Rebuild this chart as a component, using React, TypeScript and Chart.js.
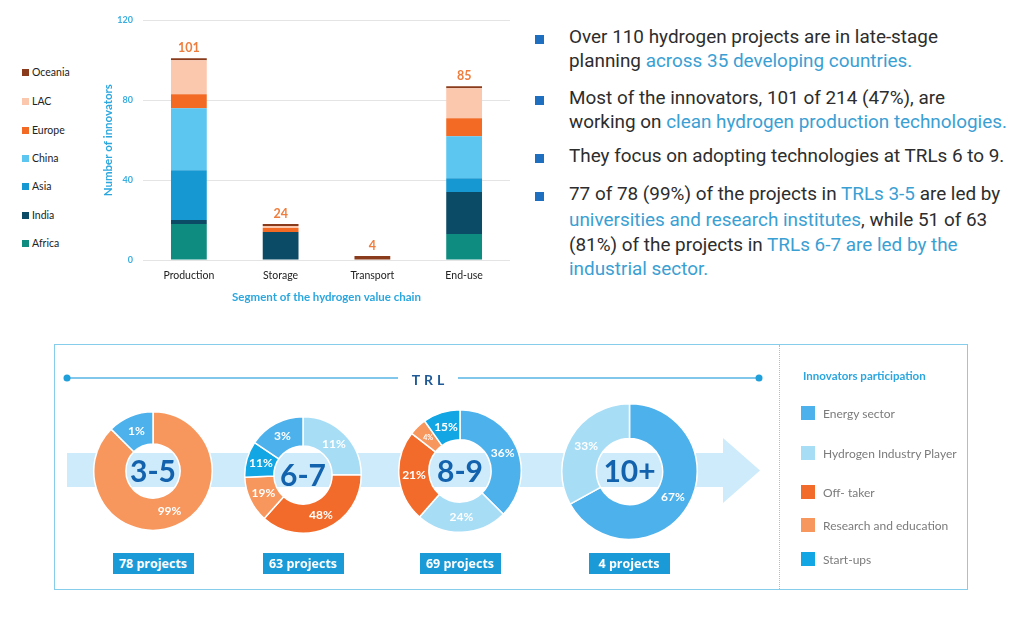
import React, { useEffect, useRef } from 'react';
import { Chart, registerables } from 'chart.js';
Chart.register(...registerables);

// ---------- Bar chart data ----------
const segments = ['Production', 'Storage', 'Transport', 'End-use'];
const regions = ['Africa', 'India', 'Asia', 'China', 'Europe', 'LAC', 'Oceania'];
const africa = [18, 0, 0, 13];
const india = [2, 14, 0, 21];
const asia = [25, 0, 0, 7];
const china = [31, 0, 0, 21];
const europe = [7, 2, 0, 9];
const lac = [17, 1, 0, 15];
const oceania = [1, 1, 2, 1];
const segmentTotals = ['101', '24', '4', '85'];
const yTicks = [0, 40, 80, 120];

// ---------- Doughnut data ----------
const participation = ['Energy sector', 'Hydrogen Industry Player', 'Off- taker', 'Research and education', 'Start-ups'];
const trlLevels = ['3-5', '6-7', '8-9', '10+'];
const trlProjects = ['78 projects', '63 projects', '69 projects', '4 projects'];

const trl35Types = [3, 0];
const trl35Shares = [87.5, 12.5];
const trl35Labels = ['99%', '1%'];

const trl67Types = [1, 2, 3, 4, 0];
const trl67Shares = [25, 36.6, 12.8, 10, 15.6];
const trl67Labels = ['11%', '48%', '19%', '11%', '3%'];

const trl89Types = [0, 1, 2, 3, 4];
const trl89Shares = [37.5, 24, 24, 4.7, 9.8];
const trl89Labels = ['36%', '24%', '21%', '4%', '15%'];

const trl10Types = [0, 1];
const trl10Shares = [67, 33];
const trl10Labels = ['67%', '33%'];

// ---------- Styles ----------
const regionColors = ['#0E8C80', '#0C4B66', '#1699D3', '#5CC6F0', '#F26A23', '#FBC7AD', '#8A3B1B'];
const partColors = ['#4DB1EC', '#A8DDF6', '#F26B2A', '#F7975E', '#12A6E4'];
const regionValues = [africa, india, asia, china, europe, lac, oceania];

function BarChart() {
  const ref = useRef<HTMLCanvasElement>(null);
  useEffect(() => {
    const totalsPlugin = {
      id: 'totals',
      afterDatasetsDraw(chart: any) {
        const ctx = chart.ctx;
        segments.forEach((_, i) => {
          let top = Infinity;
          let x = 0;
          chart.data.datasets.forEach((d: any, di: number) => {
            const el = chart.getDatasetMeta(di).data[i];
            if (d.data[i] > 0 && el) {
              top = Math.min(top, el.y);
              x = el.x;
            }
          });
          ctx.save();
          ctx.fillStyle = '#EE7E3E';
          ctx.font = 'bold 12.5px Lato';
          ctx.textAlign = 'center';
          ctx.textBaseline = 'bottom';
          ctx.fillText(segmentTotals[i], x, top - 4);
          ctx.restore();
        });
      },
    };
    const chart = new Chart(ref.current!, {
      type: 'bar',
      data: {
        labels: segments,
        datasets: regions.map((r, i) => ({
          label: r,
          data: regionValues[i],
          backgroundColor: regionColors[i],
          borderWidth: 0,
          stack: 's',
        })),
      },
      options: {
        animation: false,
        responsive: false,
        layout: { padding: { top: 15, right: 10, left: 0, bottom: 0 } },
        datasets: { bar: { categoryPercentage: 1, barPercentage: 0.39 } },
        plugins: { legend: { display: false }, tooltip: { enabled: false } },
        scales: {
          x: {
            stacked: true,
            grid: { display: false },
            border: { display: false },
            ticks: { padding: 1, color: '#222', font: { family: 'Lato', size: 10.5 } },
            title: {
              display: true,
              text: 'Segment of the hydrogen value chain',
              color: '#2BA7DF',
              font: { family: 'Lato', size: 11.5, weight: 'bold' },
              padding: { top: 0, bottom: 6 },
            },
            afterFit: (s: any) => { s.height = 50; },
          },
          y: {
            stacked: true,
            min: 0,
            max: 120,
            afterBuildTicks: (s: any) => { s.ticks = yTicks.map((v) => ({ value: v })); },
            grid: { color: '#E4E4E4', drawTicks: false },
            border: { display: false },
            ticks: { padding: 10, color: '#3AAEE0', font: { family: 'Lato', size: 9, weight: 'bold' } },
            title: {
              display: true,
              text: 'Number of innovators',
              color: '#2BA7DF',
              font: { family: 'Lato', size: 11.5, weight: 'bold' },
              padding: { top: 11, bottom: 0 },
            },
            afterFit: (s: any) => { s.width = 53; },
          },
        },
      } as any,
      plugins: [totalsPlugin],
    });
    return () => chart.destroy();
  }, []);
  return (
    <canvas
      ref={ref}
      width={430}
      height={305}
      style={{ position: 'absolute', left: 90, top: 5, width: 430, height: 305 }}
    />
  );
}

function Donut(props: {
  types: number[]; shares: number[]; labels: string[]; center: string;
  cx: number; cy: number; r: number; cut: number;
}) {
  const ref = useRef<HTMLCanvasElement>(null);
  const S = Math.round(2 * props.r + 2);
  useEffect(() => {
    const labelPlugin = {
      id: 'sliceLabels',
      afterDatasetsDraw(chart: any) {
        const ctx = chart.ctx;
        const meta = chart.getDatasetMeta(0);
        meta.data.forEach((arc: any, i: number) => {
          const p = arc.getProps(['x', 'y', 'startAngle', 'endAngle', 'innerRadius', 'outerRadius'], true);
          const mid = (p.startAngle + p.endAngle) / 2;
          const rr = (p.innerRadius + p.outerRadius) / 2;
          const share = props.shares[i];
          ctx.save();
          ctx.fillStyle = '#FFFFFF';
          ctx.font = `bold ${share < 6 ? 7 : 12}px Lato`;
          ctx.textAlign = 'center';
          ctx.textBaseline = 'middle';
          ctx.fillText(props.labels[i], p.x + rr * Math.cos(mid), p.y + rr * Math.sin(mid));
          ctx.restore();
        });
        const a0 = meta.data[0];
        ctx.save();
        ctx.fillStyle = '#1262AE';
        ctx.font = 'bold 30px Lato';
        ctx.textAlign = 'center';
        ctx.textBaseline = 'middle';
        ctx.fillText(props.center, a0.x, a0.y + 1);
        ctx.restore();
      },
    };
    const chart = new Chart(ref.current!, {
      type: 'doughnut',
      data: {
        labels: props.types.map((t) => participation[t]),
        datasets: [{
          data: props.shares,
          backgroundColor: props.types.map((t) => partColors[t]),
          borderColor: '#FFFFFF',
          borderWidth: 1.5,
        }],
      },
      options: {
        animation: false,
        responsive: false,
        cutout: `${(props.cut / props.r) * 100}%`,
        layout: { padding: 0 },
        plugins: { legend: { display: false }, tooltip: { enabled: false } },
      } as any,
      plugins: [labelPlugin],
    });
    return () => chart.destroy();
  }, []);
  return (
    <canvas
      ref={ref}
      width={S}
      height={S}
      style={{ position: 'absolute', left: props.cx - S / 2, top: props.cy - S / 2, width: S, height: S }}
    />
  );
}

const textDark = '#2D2D2D';
const textBlue = '#3AA0D3';

const bulletLines: { y: number; bullet?: boolean; parts: [string, boolean][] }[] = [
  { y: 37, bullet: true, parts: [['Over 110 hydrogen projects are in late-stage', false]] },
  { y: 61, parts: [['planning ', false], ['across 35 developing countries.', true]] },
  { y: 98, bullet: true, parts: [['Most of the innovators, 101 of 214 (47%), are', false]] },
  { y: 122, parts: [['working on ', false], ['clean hydrogen production technologies.', true]] },
  { y: 156, bullet: true, parts: [['They focus on adopting technologies at TRLs 6 to 9.', false]] },
  { y: 194, bullet: true, parts: [['77 of 78 (99%) of the projects in ', false], ['TRLs 3-5', true], [' are led by', false]] },
  { y: 220, parts: [['universities and research institutes', true], [', while 51 of 63', false]] },
  { y: 245, parts: [['(81%) of the projects in ', false], ['TRLs 6-7 are led by the', true]] },
  { y: 269, parts: [['industrial sector.', true]] },
];

const donutGeom = [
  { cx: 153, cy: 471, r: 59, cut: 27 },
  { cx: 303, cy: 475, r: 58, cut: 29 },
  { cx: 460, cy: 471, r: 61, cut: 31 },
  { cx: 629, cy: 471, r: 67.5, cut: 33 },
];

export default function App() {
  const regionLegendYs = [72, 101, 130, 158, 186, 215, 243];
  const legendOrder = [6, 5, 4, 3, 2, 1, 0];
  const partLegendYs = [413, 453, 492, 525, 559];
  const donuts = [
    { types: trl35Types, shares: trl35Shares, labels: trl35Labels },
    { types: trl67Types, shares: trl67Shares, labels: trl67Labels },
    { types: trl89Types, shares: trl89Shares, labels: trl89Labels },
    { types: trl10Types, shares: trl10Shares, labels: trl10Labels },
  ];
  return (
    <div style={{ position: 'absolute', left: 0, top: 0, width: 1024, height: 620, background: '#fff', overflow: 'hidden' }}>
      {/* Bar chart legend */}
      {legendOrder.map((ri, k) => (
        <div key={ri} style={{ position: 'absolute', left: 22, top: regionLegendYs[k] - 7, height: 14, display: 'flex', alignItems: 'center', fontFamily: 'Lato', fontSize: 10.5, color: '#222' }}>
          <div style={{ width: 7, height: 7, background: regionColors[ri], marginRight: 3 }} />
          {regions[ri]}
        </div>
      ))}
      <BarChart />

      {/* Right text */}
      {bulletLines.map((l, i) => (
        <React.Fragment key={i}>
          {l.bullet && (
            <div style={{ position: 'absolute', left: 535, top: l.y - 2, width: 9, height: 9, background: '#1E6FC0' }} />
          )}
          <div style={{ position: 'absolute', left: 569, top: l.y - 12, height: 24, lineHeight: '24px', whiteSpace: 'nowrap', fontFamily: 'Roboto', fontSize: 18.9, color: textDark }}>
            {l.parts.map(([t, hl], j) => (
              <span key={j} style={{ color: hl ? textBlue : textDark }}>{t}</span>
            ))}
          </div>
        </React.Fragment>
      ))}

      {/* Bottom panel frame */}
      <div style={{ position: 'absolute', left: 54, top: 344, width: 914, height: 246, border: '1.5px solid #86CDEB', boxSizing: 'border-box' }} />
      <div style={{ position: 'absolute', left: 779, top: 345, width: 0, height: 244, borderLeft: '1px dotted #86CDEB' }} />

      <svg width={1024} height={620} style={{ position: 'absolute', left: 0, top: 0 }}>
        <polygon points="67,453 723,453 723,438 760,470.5 723,503 723,487 67,487" fill="#CDEBFA" />
        <line x1={67} y1={378} x2={398} y2={378} stroke="#57B5E5" strokeWidth={1.5} />
        <line x1={458} y1={378} x2={759} y2={378} stroke="#57B5E5" strokeWidth={1.5} />
        <circle cx={67} cy={378} r={3.5} fill="#1FA0DB" />
        <circle cx={759} cy={378} r={3.5} fill="#1FA0DB" />
      </svg>
      <div style={{ position: 'absolute', left: 398, top: 370, width: 60, textAlign: 'center', fontFamily: 'Lato', fontWeight: 700, fontSize: 14, letterSpacing: 4, color: '#1F5A96', lineHeight: '20px', paddingLeft: 4, boxSizing: 'border-box' }}>TRL</div>

      {donuts.map((d, i) => (
        <Donut key={i} {...d} center={trlLevels[i]} {...donutGeom[i]} />
      ))}

      {trlProjects.map((p, i) => (
        <div key={p} style={{ position: 'absolute', left: donutGeom[i].cx - 40.5, top: 553, width: 81, height: 21, background: '#1A9BD8', color: '#fff', fontFamily: 'Open Sans', fontWeight: 700, fontSize: 12.5, lineHeight: '21px', textAlign: 'center' }}>{p}</div>
      ))}

      {/* Participation legend */}
      <div style={{ position: 'absolute', left: 803, top: 368, fontFamily: 'Lato', fontWeight: 700, fontSize: 11.5, color: '#2BA6DE', lineHeight: '16px', whiteSpace: 'nowrap' }}>Innovators participation</div>
      {participation.map((p, i) => (
        <div key={p} style={{ position: 'absolute', left: 801, top: partLegendYs[i] - 8, height: 16, display: 'flex', alignItems: 'center', fontFamily: 'Lato', fontSize: 12, color: '#7B7B7B', whiteSpace: 'nowrap' }}>
          <div style={{ width: 14, height: 14, background: partColors[i], marginRight: 8 }} />
          {p}
        </div>
      ))}
    </div>
  );
}
